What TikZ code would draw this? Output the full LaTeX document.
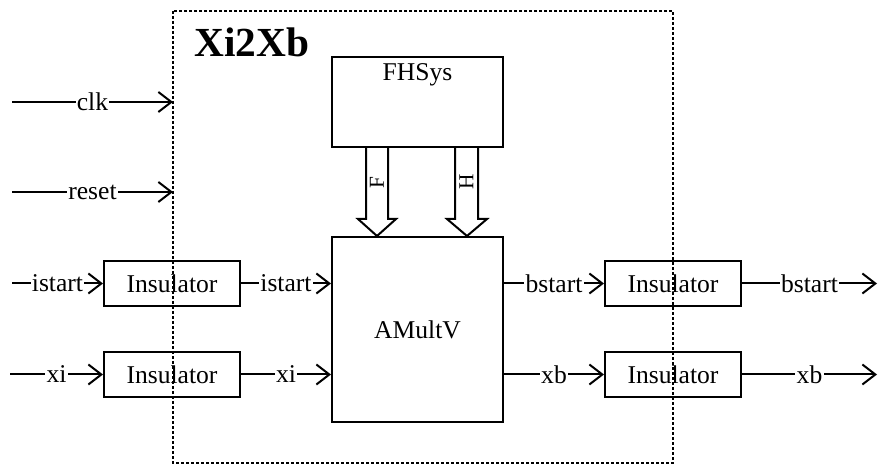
\documentclass[tikz,border=0pt]{standalone}
\usepackage{fontspec}
\setmainfont{Liberation Serif}
\usetikzlibrary{calc,positioning,arrows.meta}

\begin{document}
\begin{tikzpicture}[x=0.75pt,y=-0.75pt]
    \tikzstyle{block}=[draw,line width=1.5pt,inner sep=0pt,font=\fontsize{19.2}{23}\selectfont]
    \tikzstyle{insul}=[block,minimum width=102pt,minimum height=33.75pt]
    \tikzstyle{sig}=[line width=1.5pt,-{Straight Barb[length=9.75pt,width=15pt,line width=1.5pt]}]
    \tikzstyle{lab}=[fill=white,inner sep=1pt,font=\fontsize{19.2}{23}\selectfont]
    \tikzstyle{bus}=[line width=1.5pt]

    \useasboundingbox (0,0) rectangle (878,466);

    % top level frame
    \draw[line width=1.1pt,dash pattern=on 2.25pt off 1.5pt] (173,11) rectangle (673,463);
    \node[font=\fontsize{31}{36}\selectfont\bfseries] (title) at (252,42) {Xi2Xb};

    \node[block,minimum width=128.25pt,minimum height=67.5pt] (fh) at (417.5,102) {};
    \node[font=\fontsize{19.2}{23}\selectfont] (fhname) at (417.5,75) {FHSys};
    \node[block,minimum width=128.25pt,minimum height=138.75pt] (am) at (417.5,329.5) {AMultV};

    \node[insul] (insi) at (172,283.5) {Insulator};
    \node[insul] (insx) at (172,374.5) {Insulator};
    \node[insul] (insb) at (673,283.5) {Insulator};
    \node[insul] (insxb) at (673,374.5) {Insulator};

    \coordinate (clkin) at (12,102);
    \coordinate (clkout) at (173,102);
    \coordinate (rstin) at (12,192);
    \coordinate (rstout) at (173,192);
    \coordinate (istartin) at (12,283.5);
    \coordinate (xiin) at (10,374.5);
    \coordinate (bstartout) at (877,283.5);
    \coordinate (xbout) at (877,374.5);

    % inputs
    \draw[sig] (clkin) -- node[lab] {clk} (clkout);
    \draw[sig] (rstin) -- node[lab] {reset} (rstout);
    \draw[sig] (istartin) -- node[lab] {istart} (insi.west);
    \draw[sig] (xiin) -- node[lab] {xi} (insx.west);
    \draw[sig] (insi.east) -- node[lab] {istart} (am.west |- insi.east);
    \draw[sig] (insx.east) -- node[lab] {xi} (am.west |- insx.east);

    % outputs
    \draw[sig] (am.east |- insb.west) -- node[lab] {bstart} (insb.west);
    \draw[sig] (am.east |- insxb.west) -- node[lab] {xb} (insxb.west);
    \draw[sig] (insb.east) -- node[lab] {bstart} (bstartout);
    \draw[sig] (insxb.east) -- node[lab] {xb} (xbout);

    % F and H buses
    \draw[bus] ($(fh.south)+(-51.5,0)$) -- ($(am.north)+(-51.5,-17)$) -- ($(am.north)+(-59.5,-17)$)
        -- ($(am.north)+(-40.5,0)$) -- ($(am.north)+(-21.5,-17)$) -- ($(am.north)+(-29.5,-17)$)
        -- ($(fh.south)+(-29.5,0)$);
    \node[rotate=90,font=\fontsize{16}{19}\selectfont] (fbus) at (377,183) {F};
    \draw[bus] ($(fh.south)+(37.5,0)$) -- ($(am.north)+(37.5,-17)$) -- ($(am.north)+(29.5,-17)$)
        -- ($(am.north)+(49.5,0)$) -- ($(am.north)+(69.5,-17)$) -- ($(am.north)+(60.5,-17)$)
        -- ($(fh.south)+(60.5,0)$);
    \node[rotate=90,font=\fontsize{16}{19}\selectfont] (hbus) at (466.5,182) {H};
\end{tikzpicture}
\end{document}
